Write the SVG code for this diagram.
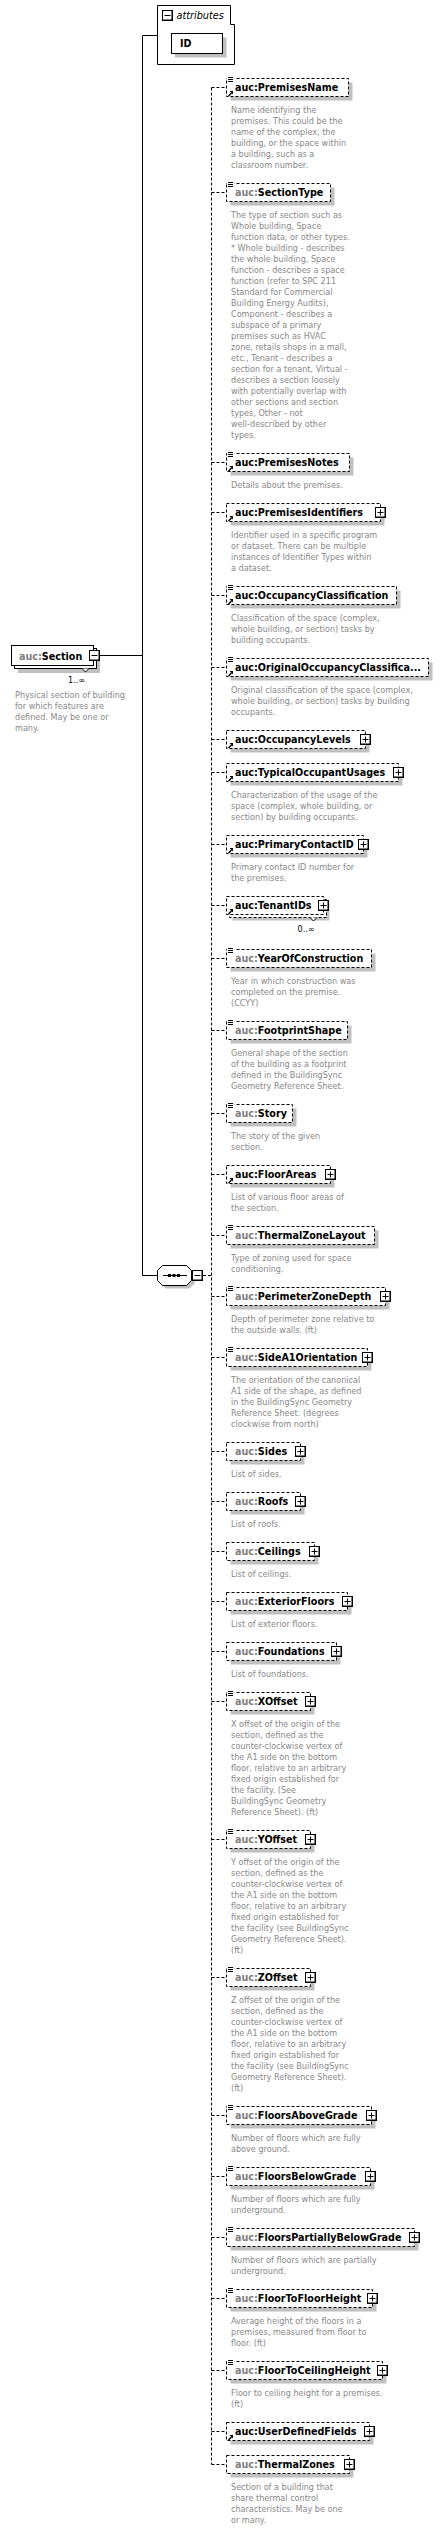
<svg xmlns="http://www.w3.org/2000/svg" width="442" height="2530" viewBox="0 0 442 2530">
<style>
.sh{fill:#c0c0c0}
.el{fill:#fff;stroke:#000;stroke-width:1;stroke-dasharray:3,2}
.sol{fill:#fff;stroke:#000;stroke-width:1}
.ln{fill:none;stroke:#000;stroke-width:1}
.dl{fill:none;stroke:#000;stroke-width:1;stroke-dasharray:3,2}
.lbl{font-family:"DejaVu Sans",Verdana,sans-serif;font-weight:bold;font-size:9.6px;fill:#000}
.ns{fill:#808080}
.desc{font-family:"DejaVu Sans",Verdana,sans-serif;font-size:8.1px;fill:#888}
.occ{font-family:"DejaVu Sans",Verdana,sans-serif;font-size:8.1px;fill:#000}
.it{font-family:"DejaVu Sans",Verdana,sans-serif;font-style:italic;font-size:9.7px;fill:#000}
</style>
<defs>
<g id="plus"><rect width="11" height="11" fill="#000"/><rect x="1" y="1" width="8.5" height="8.5" fill="#fff"/><path d="M2.5,5.5H8.5M5.5,2.5V8.5" stroke="#000" stroke-width="1"/></g>
<g id="minus"><rect width="11" height="11" fill="#000"/><rect x="1" y="1" width="8.5" height="8.5" fill="#fff"/><path d="M2.5,5.5H8.5" stroke="#000" stroke-width="1"/></g>
<g id="eq"><rect x="0.5" y="-2.5" width="7.5" height="7" fill="#fff"/><path d="M1.5,-1H6.5M1.5,1H6.5M1.5,3H6.5" stroke="#000" stroke-width="1"/></g>
<g id="ref"><path d="M2,-0.5L5,-3.5" stroke="#000" stroke-width="1.4"/><path d="M3,-5.5H6.5V-2Z" fill="#000"/></g>
</defs>
<rect width="442" height="2530" fill="#fff"/>

<g id="connectors">
<path class="ln" d="M142.5,35.5H157.5M142.5,35.5V1275.5H157.5M100,655.5H142.5"/>
<path class="dl" d="M203,1275.5H211.5M211.5,87.5V2464.5"/>
<path class="dl" d="M211.5,87.5H226.5M211.5,192.5H226.5M211.5,462.5H226.5M211.5,512.5H226.5M211.5,595.5H226.5M211.5,667.5H226.5M211.5,739.5H226.5M211.5,772.5H226.5M211.5,844.5H226.5M211.5,905.5H226.5M211.5,958.5H226.5M211.5,1030.5H226.5M211.5,1113.5H226.5M211.5,1174.5H226.5M211.5,1235.5H226.5M211.5,1296.5H226.5M211.5,1357.5H226.5M211.5,1451.5H226.5M211.5,1501.5H226.5M211.5,1551.5H226.5M211.5,1601.5H226.5M211.5,1651.5H226.5M211.5,1701.5H226.5M211.5,1839.5H226.5M211.5,1977.5H226.5M211.5,2115.5H226.5M211.5,2176.5H226.5M211.5,2237.5H226.5M211.5,2298.5H226.5M211.5,2370.5H226.5M211.5,2431.5H226.5M211.5,2464.5H226.5"/>
</g>

<g id="attributes">
<path class="sol" d="M157.5,5.5H230.5V24.5H234.5V64.5H157.5Z"/>
<use href="#minus" x="162" y="10"/>
<text class="it" x="176.5" y="18.5">attributes</text>
<rect class="sh" x="175" y="37.5" width="51.5" height="20"/>
<rect class="sol" x="171.5" y="33.5" width="51" height="20"/>
<text class="lbl" x="180" y="47">ID</text>
</g>

<g id="section">
<rect class="sh" x="18" y="652" width="82" height="21"/>
<rect class="sol" x="14.5" y="648.5" width="82" height="20"/>
<rect class="sol" x="11.5" y="645.5" width="82" height="20"/>
<polyline class="sol" points="82,668.5 85.5,672 89,668.5"/>
<text class="lbl" x="19" y="659.5"><tspan class="ns">auc:</tspan>Section</text>
<use href="#minus" x="89" y="650"/>
<text class="occ" x="68" y="682.5">1..∞</text>
<text class="desc" y="697.5"><tspan x="15">Physical section of building</tspan><tspan x="15" dy="11">for which features are</tspan><tspan x="15" dy="11">defined. May be one or</tspan><tspan x="15" dy="11">many.</tspan></text>
</g>

<g id="sequence">
<path class="sh" d="M165.5,1268.5H189.5L194.5,1273.5V1283.5L189.5,1288.5H165.5L160.5,1283.5V1273.5Z"/>
<path class="sol" d="M162.5,1265.5H186.5L191.5,1270.5V1280.5L186.5,1285.5H162.5L157.5,1280.5V1270.5Z"/>
<path class="ln" d="M163,1275.5H187"/>
<rect x="168" y="1274" width="3" height="3" fill="#000"/>
<rect x="172.5" y="1274" width="3" height="3" fill="#000"/>
<rect x="177" y="1274" width="3" height="3" fill="#000"/>
<use href="#minus" x="192" y="1270"/>
</g>

<g id="PremisesName">
<rect class="sh" x="230.5" y="82.5" width="122" height="18"/>
<rect class="el" x="226.5" y="78.5" width="122" height="18"/>
<use href="#eq" x="226.5" y="78.5"/><use href="#ref" x="226.5" y="96.5"/>
<text class="lbl" x="235" y="91">auc:PremisesName</text>
<text class="desc" y="113"><tspan x="231">Name identifying the</tspan><tspan x="231" dy="11">premises. This could be the</tspan><tspan x="231" dy="11">name of the complex, the</tspan><tspan x="231" dy="11">building, or the space within</tspan><tspan x="231" dy="11">a building, such as a</tspan><tspan x="231" dy="11">classroom number.</tspan></text>
</g>

<g id="SectionType">
<rect class="sh" x="230.5" y="187.5" width="104" height="18"/>
<rect class="el" x="226.5" y="183.5" width="104" height="18"/>
<use href="#eq" x="226.5" y="183.5"/>
<text class="lbl" x="235" y="196"><tspan class="ns">auc:</tspan>SectionType</text>
<text class="desc" y="218"><tspan x="231">The type of section such as</tspan><tspan x="231" dy="11">Whole building, Space</tspan><tspan x="231" dy="11">function data, or other types.</tspan><tspan x="231" dy="11">* Whole building - describes</tspan><tspan x="231" dy="11">the whole building, Space</tspan><tspan x="231" dy="11">function - describes a space</tspan><tspan x="231" dy="11">function (refer to SPC 211</tspan><tspan x="231" dy="11">Standard for Commercial</tspan><tspan x="231" dy="11">Building Energy Audits),</tspan><tspan x="231" dy="11">Component - describes a</tspan><tspan x="231" dy="11">subspace of a primary</tspan><tspan x="231" dy="11">premises such as HVAC</tspan><tspan x="231" dy="11">zone, retails shops in a mall,</tspan><tspan x="231" dy="11">etc., Tenant - describes a</tspan><tspan x="231" dy="11">section for a tenant, Virtual -</tspan><tspan x="231" dy="11">describes a section loosely</tspan><tspan x="231" dy="11">with potentially overlap with</tspan><tspan x="231" dy="11">other sections and section</tspan><tspan x="231" dy="11">types, Other - not</tspan><tspan x="231" dy="11">well-described by other</tspan><tspan x="231" dy="11">types.</tspan></text>
</g>

<g id="PremisesNotes">
<rect class="sh" x="230.5" y="457.5" width="123" height="18"/>
<rect class="el" x="226.5" y="453.5" width="123" height="18"/>
<use href="#eq" x="226.5" y="453.5"/><use href="#ref" x="226.5" y="471.5"/>
<text class="lbl" x="235" y="466">auc:PremisesNotes</text>
<text class="desc" y="488"><tspan x="231">Details about the premises.</tspan></text>
</g>

<g id="PremisesIdentifiers">
<rect class="sh" x="230.5" y="507.5" width="154" height="18"/>
<rect class="el" x="226.5" y="503.5" width="154" height="18"/>
<use href="#ref" x="226.5" y="521.5"/>
<text class="lbl" x="235" y="516">auc:PremisesIdentifiers</text>
<use href="#plus" x="375" y="507"/>
<text class="desc" y="538"><tspan x="231">Identifier used in a specific program</tspan><tspan x="231" dy="11">or dataset. There can be multiple</tspan><tspan x="231" dy="11">instances of Identifier Types within</tspan><tspan x="231" dy="11">a dataset.</tspan></text>
</g>

<g id="OccupancyClassification">
<rect class="sh" x="230.5" y="590.5" width="170" height="18"/>
<rect class="el" x="226.5" y="586.5" width="170" height="18"/>
<use href="#eq" x="226.5" y="586.5"/><use href="#ref" x="226.5" y="604.5"/>
<text class="lbl" x="235" y="599">auc:OccupancyClassification</text>
<text class="desc" y="621"><tspan x="231">Classification of the space (complex,</tspan><tspan x="231" dy="11">whole building, or section) tasks by</tspan><tspan x="231" dy="11">building occupants.</tspan></text>
</g>

<g id="OriginalOccupancyClassification">
<rect class="sh" x="230.5" y="662.5" width="202" height="18"/>
<rect class="el" x="226.5" y="658.5" width="202" height="18"/>
<use href="#eq" x="226.5" y="658.5"/><use href="#ref" x="226.5" y="676.5"/>
<text class="lbl" x="235" y="671">auc:OriginalOccupancyClassifica...</text>
<text class="desc" y="693"><tspan x="231">Original classification of the space (complex,</tspan><tspan x="231" dy="11">whole building, or section) tasks by building</tspan><tspan x="231" dy="11">occupants.</tspan></text>
</g>

<g id="OccupancyLevels">
<rect class="sh" x="230.5" y="734.5" width="139" height="18"/>
<rect class="el" x="226.5" y="730.5" width="139" height="18"/>
<use href="#ref" x="226.5" y="748.5"/>
<text class="lbl" x="235" y="743">auc:OccupancyLevels</text>
<use href="#plus" x="360" y="734"/>
</g>

<g id="TypicalOccupantUsages">
<rect class="sh" x="230.5" y="767.5" width="172" height="18"/>
<rect class="el" x="226.5" y="763.5" width="172" height="18"/>
<use href="#ref" x="226.5" y="781.5"/>
<text class="lbl" x="235" y="776">auc:TypicalOccupantUsages</text>
<use href="#plus" x="393" y="767"/>
<text class="desc" y="798"><tspan x="231">Characterization of the usage of the</tspan><tspan x="231" dy="11">space (complex, whole building, or</tspan><tspan x="231" dy="11">section) by building occupants.</tspan></text>
</g>

<g id="PrimaryContactID">
<rect class="sh" x="230.5" y="839.5" width="137" height="18"/>
<rect class="el" x="226.5" y="835.5" width="137" height="18"/>
<use href="#ref" x="226.5" y="853.5"/>
<text class="lbl" x="235" y="848">auc:PrimaryContactID</text>
<use href="#plus" x="358" y="839"/>
<text class="desc" y="870"><tspan x="231">Primary contact ID number for</tspan><tspan x="231" dy="11">the premises.</tspan></text>
</g>

<g id="TenantIDs">
<rect class="sh" x="232.5" y="902.5" width="97" height="18"/>
<rect class="el" x="229.5" y="899.5" width="97" height="18"/>
<rect class="el" x="226.5" y="896.5" width="97" height="18"/>
<polyline class="sol" points="310,917.5 313.5,921 317,917.5"/>
<use href="#ref" x="226.5" y="914.5"/>
<text class="lbl" x="235" y="909">auc:TenantIDs</text>
<use href="#plus" x="318" y="900"/>
<text class="occ" x="297.5" y="931.5">0..∞</text>
</g>

<g id="YearOfConstruction">
<rect class="sh" x="230.5" y="953.5" width="145" height="18"/>
<rect class="el" x="226.5" y="949.5" width="145" height="18"/>
<use href="#eq" x="226.5" y="949.5"/>
<text class="lbl" x="235" y="962"><tspan class="ns">auc:</tspan>YearOfConstruction</text>
<text class="desc" y="984"><tspan x="231">Year in which construction was</tspan><tspan x="231" dy="11">completed on the premise.</tspan><tspan x="231" dy="11">(CCYY)</tspan></text>
</g>

<g id="FootprintShape">
<rect class="sh" x="230.5" y="1025.5" width="121" height="18"/>
<rect class="el" x="226.5" y="1021.5" width="121" height="18"/>
<use href="#eq" x="226.5" y="1021.5"/>
<text class="lbl" x="235" y="1034"><tspan class="ns">auc:</tspan>FootprintShape</text>
<text class="desc" y="1056"><tspan x="231">General shape of the section</tspan><tspan x="231" dy="11">of the building as a footprint</tspan><tspan x="231" dy="11">defined in the BuildingSync</tspan><tspan x="231" dy="11">Geometry Reference Sheet.</tspan></text>
</g>

<g id="Story">
<rect class="sh" x="230.5" y="1108.5" width="66" height="18"/>
<rect class="el" x="226.5" y="1104.5" width="66" height="18"/>
<use href="#eq" x="226.5" y="1104.5"/>
<text class="lbl" x="235" y="1117"><tspan class="ns">auc:</tspan>Story</text>
<text class="desc" y="1139"><tspan x="231">The story of the given</tspan><tspan x="231" dy="11">section.</tspan></text>
</g>

<g id="FloorAreas">
<rect class="sh" x="230.5" y="1169.5" width="104" height="18"/>
<rect class="el" x="226.5" y="1165.5" width="104" height="18"/>
<use href="#ref" x="226.5" y="1183.5"/>
<text class="lbl" x="235" y="1178">auc:FloorAreas</text>
<use href="#plus" x="325" y="1169"/>
<text class="desc" y="1200"><tspan x="231">List of various floor areas of</tspan><tspan x="231" dy="11">the section.</tspan></text>
</g>

<g id="ThermalZoneLayout">
<rect class="sh" x="230.5" y="1230.5" width="148" height="18"/>
<rect class="el" x="226.5" y="1226.5" width="148" height="18"/>
<use href="#eq" x="226.5" y="1226.5"/>
<text class="lbl" x="235" y="1239"><tspan class="ns">auc:</tspan>ThermalZoneLayout</text>
<text class="desc" y="1261"><tspan x="231">Type of zoning used for space</tspan><tspan x="231" dy="11">conditioning.</tspan></text>
</g>

<g id="PerimeterZoneDepth">
<rect class="sh" x="230.5" y="1291.5" width="159" height="18"/>
<rect class="el" x="226.5" y="1287.5" width="159" height="18"/>
<use href="#eq" x="226.5" y="1287.5"/>
<text class="lbl" x="235" y="1300"><tspan class="ns">auc:</tspan>PerimeterZoneDepth</text>
<use href="#plus" x="380" y="1291"/>
<text class="desc" y="1322"><tspan x="231">Depth of perimeter zone relative to</tspan><tspan x="231" dy="11">the outside walls. (ft)</tspan></text>
</g>

<g id="SideA1Orientation">
<rect class="sh" x="230.5" y="1352.5" width="141" height="18"/>
<rect class="el" x="226.5" y="1348.5" width="141" height="18"/>
<use href="#eq" x="226.5" y="1348.5"/>
<text class="lbl" x="235" y="1361"><tspan class="ns">auc:</tspan>SideA1Orientation</text>
<use href="#plus" x="362" y="1352"/>
<text class="desc" y="1383"><tspan x="231">The orientation of the canonical</tspan><tspan x="231" dy="11">A1 side of the shape, as defined</tspan><tspan x="231" dy="11">in the BuildingSync Geometry</tspan><tspan x="231" dy="11">Reference Sheet. (degrees</tspan><tspan x="231" dy="11">clockwise from north)</tspan></text>
</g>

<g id="Sides">
<rect class="sh" x="230.5" y="1446.5" width="74" height="18"/>
<rect class="el" x="226.5" y="1442.5" width="74" height="18"/>
<text class="lbl" x="235" y="1455"><tspan class="ns">auc:</tspan>Sides</text>
<use href="#plus" x="295" y="1446"/>
<text class="desc" y="1477"><tspan x="231">List of sides.</tspan></text>
</g>

<g id="Roofs">
<rect class="sh" x="230.5" y="1496.5" width="74" height="18"/>
<rect class="el" x="226.5" y="1492.5" width="74" height="18"/>
<text class="lbl" x="235" y="1505"><tspan class="ns">auc:</tspan>Roofs</text>
<use href="#plus" x="295" y="1496"/>
<text class="desc" y="1527"><tspan x="231">List of roofs.</tspan></text>
</g>

<g id="Ceilings">
<rect class="sh" x="230.5" y="1546.5" width="88" height="18"/>
<rect class="el" x="226.5" y="1542.5" width="88" height="18"/>
<text class="lbl" x="235" y="1555"><tspan class="ns">auc:</tspan>Ceilings</text>
<use href="#plus" x="309" y="1546"/>
<text class="desc" y="1577"><tspan x="231">List of ceilings.</tspan></text>
</g>

<g id="ExteriorFloors">
<rect class="sh" x="230.5" y="1596.5" width="121" height="18"/>
<rect class="el" x="226.5" y="1592.5" width="121" height="18"/>
<text class="lbl" x="235" y="1605"><tspan class="ns">auc:</tspan>ExteriorFloors</text>
<use href="#plus" x="342" y="1596"/>
<text class="desc" y="1627"><tspan x="231">List of exterior floors.</tspan></text>
</g>

<g id="Foundations">
<rect class="sh" x="230.5" y="1646.5" width="110" height="18"/>
<rect class="el" x="226.5" y="1642.5" width="110" height="18"/>
<text class="lbl" x="235" y="1655"><tspan class="ns">auc:</tspan>Foundations</text>
<use href="#plus" x="331" y="1646"/>
<text class="desc" y="1677"><tspan x="231">List of foundations.</tspan></text>
</g>

<g id="XOffset">
<rect class="sh" x="230.5" y="1696.5" width="84" height="18"/>
<rect class="el" x="226.5" y="1692.5" width="84" height="18"/>
<use href="#eq" x="226.5" y="1692.5"/>
<text class="lbl" x="235" y="1705"><tspan class="ns">auc:</tspan>XOffset</text>
<use href="#plus" x="305" y="1696"/>
<text class="desc" y="1727"><tspan x="231">X offset of the origin of the</tspan><tspan x="231" dy="11">section, defined as the</tspan><tspan x="231" dy="11">counter-clockwise vertex of</tspan><tspan x="231" dy="11">the A1 side on the bottom</tspan><tspan x="231" dy="11">floor, relative to an arbitrary</tspan><tspan x="231" dy="11">fixed origin established for</tspan><tspan x="231" dy="11">the facility. (See</tspan><tspan x="231" dy="11">BuildingSync Geometry</tspan><tspan x="231" dy="11">Reference Sheet). (ft)</tspan></text>
</g>

<g id="YOffset">
<rect class="sh" x="230.5" y="1834.5" width="84" height="18"/>
<rect class="el" x="226.5" y="1830.5" width="84" height="18"/>
<use href="#eq" x="226.5" y="1830.5"/>
<text class="lbl" x="235" y="1843"><tspan class="ns">auc:</tspan>YOffset</text>
<use href="#plus" x="305" y="1834"/>
<text class="desc" y="1865"><tspan x="231">Y offset of the origin of the</tspan><tspan x="231" dy="11">section, defined as the</tspan><tspan x="231" dy="11">counter-clockwise vertex of</tspan><tspan x="231" dy="11">the A1 side on the bottom</tspan><tspan x="231" dy="11">floor, relative to an arbitrary</tspan><tspan x="231" dy="11">fixed origin established for</tspan><tspan x="231" dy="11">the facility (see BuildingSync</tspan><tspan x="231" dy="11">Geometry Reference Sheet).</tspan><tspan x="231" dy="11">(ft)</tspan></text>
</g>

<g id="ZOffset">
<rect class="sh" x="230.5" y="1972.5" width="84" height="18"/>
<rect class="el" x="226.5" y="1968.5" width="84" height="18"/>
<use href="#eq" x="226.5" y="1968.5"/>
<text class="lbl" x="235" y="1981"><tspan class="ns">auc:</tspan>ZOffset</text>
<use href="#plus" x="305" y="1972"/>
<text class="desc" y="2003"><tspan x="231">Z offset of the origin of the</tspan><tspan x="231" dy="11">section, defined as the</tspan><tspan x="231" dy="11">counter-clockwise vertex of</tspan><tspan x="231" dy="11">the A1 side on the bottom</tspan><tspan x="231" dy="11">floor, relative to an arbitrary</tspan><tspan x="231" dy="11">fixed origin established for</tspan><tspan x="231" dy="11">the facility (see BuildingSync</tspan><tspan x="231" dy="11">Geometry Reference Sheet).</tspan><tspan x="231" dy="11">(ft)</tspan></text>
</g>

<g id="FloorsAboveGrade">
<rect class="sh" x="230.5" y="2110.5" width="145" height="18"/>
<rect class="el" x="226.5" y="2106.5" width="145" height="18"/>
<use href="#eq" x="226.5" y="2106.5"/>
<text class="lbl" x="235" y="2119"><tspan class="ns">auc:</tspan>FloorsAboveGrade</text>
<use href="#plus" x="366" y="2110"/>
<text class="desc" y="2141"><tspan x="231">Number of floors which are fully</tspan><tspan x="231" dy="11">above ground.</tspan></text>
</g>

<g id="FloorsBelowGrade">
<rect class="sh" x="230.5" y="2171.5" width="144" height="18"/>
<rect class="el" x="226.5" y="2167.5" width="144" height="18"/>
<use href="#eq" x="226.5" y="2167.5"/>
<text class="lbl" x="235" y="2180"><tspan class="ns">auc:</tspan>FloorsBelowGrade</text>
<use href="#plus" x="365" y="2171"/>
<text class="desc" y="2202"><tspan x="231">Number of floors which are fully</tspan><tspan x="231" dy="11">underground.</tspan></text>
</g>

<g id="FloorsPartiallyBelowGrade">
<rect class="sh" x="230.5" y="2232.5" width="188" height="18"/>
<rect class="el" x="226.5" y="2228.5" width="188" height="18"/>
<use href="#eq" x="226.5" y="2228.5"/>
<text class="lbl" x="235" y="2241"><tspan class="ns">auc:</tspan>FloorsPartiallyBelowGrade</text>
<use href="#plus" x="409" y="2232"/>
<text class="desc" y="2263"><tspan x="231">Number of floors which are partially</tspan><tspan x="231" dy="11">underground.</tspan></text>
</g>

<g id="FloorToFloorHeight">
<rect class="sh" x="230.5" y="2293.5" width="146" height="18"/>
<rect class="el" x="226.5" y="2289.5" width="146" height="18"/>
<use href="#eq" x="226.5" y="2289.5"/>
<text class="lbl" x="235" y="2302"><tspan class="ns">auc:</tspan>FloorToFloorHeight</text>
<use href="#plus" x="367" y="2293"/>
<text class="desc" y="2324"><tspan x="231">Average height of the floors in a</tspan><tspan x="231" dy="11">premises, measured from floor to</tspan><tspan x="231" dy="11">floor. (ft)</tspan></text>
</g>

<g id="FloorToCeilingHeight">
<rect class="sh" x="230.5" y="2365.5" width="156" height="18"/>
<rect class="el" x="226.5" y="2361.5" width="156" height="18"/>
<use href="#eq" x="226.5" y="2361.5"/>
<text class="lbl" x="235" y="2374"><tspan class="ns">auc:</tspan>FloorToCeilingHeight</text>
<use href="#plus" x="377" y="2365"/>
<text class="desc" y="2396"><tspan x="231">Floor to ceiling height for a premises.</tspan><tspan x="231" dy="11">(ft)</tspan></text>
</g>

<g id="UserDefinedFields">
<rect class="sh" x="230.5" y="2426.5" width="143" height="18"/>
<rect class="el" x="226.5" y="2422.5" width="143" height="18"/>
<use href="#ref" x="226.5" y="2440.5"/>
<text class="lbl" x="235" y="2435">auc:UserDefinedFields</text>
<use href="#plus" x="364" y="2426"/>
</g>

<g id="ThermalZones">
<rect class="sh" x="230.5" y="2459.5" width="123" height="18"/>
<rect class="el" x="226.5" y="2455.5" width="123" height="18"/>
<text class="lbl" x="235" y="2468"><tspan class="ns">auc:</tspan>ThermalZones</text>
<use href="#plus" x="344" y="2459"/>
<text class="desc" y="2490"><tspan x="231">Section of a building that</tspan><tspan x="231" dy="11">share thermal control</tspan><tspan x="231" dy="11">characteristics. May be one</tspan><tspan x="231" dy="11">or many.</tspan></text>
</g>
</svg>
